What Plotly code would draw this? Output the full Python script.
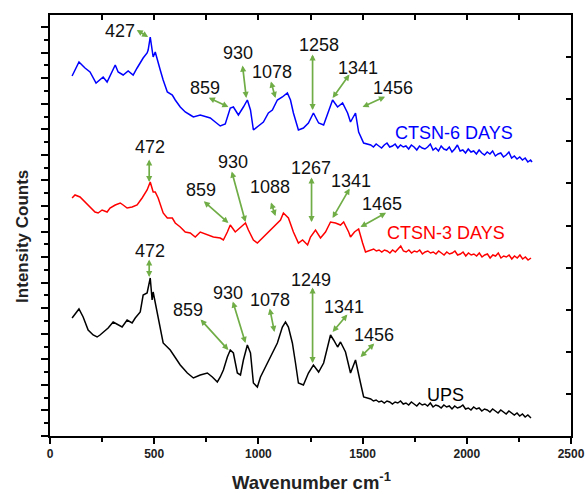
import plotly.graph_objects as go

# ---------------- data (wavenumber cm-1, intensity in arbitrary counts) ----------------
ups_x = [106,139,159,183,207,226,240,255,279,303,327,346,370,394,409,433,447,466,481,490,495,505,519,543,577,601,625,659,688,721,755,779,803,817,832,851,865,880,899,914,928,947,962,976,995,1010,1043,1067,1091,1115,1130,1144,1163,1178,1192,1216,1240,1264,1289,1313,1346,1361,1380,1394,1418,1442,1466,1490,1505,
         1539,1552,1565,1578,1591,1604,1617,1630,1643,1656,1669,1682,1695,1708,1721,1734,1747,1760,1773,1786,1799,1812,1825,1838,1851,1864,1877,1890,1903,1916,1929,1942,1955,1968,1981,1994,2007,2020,2033,2046,2059,2072,2085,2098,2111,2124,2137,2150,2163,2176,2189,2202,2215,2228,2241,2254,2267,2280,2293,2306,2308]
ups_y = [118,127,119,106,101,99,101,104,108,114,111,109,116,113,118,124,141,143,158,136,144,133,119,93,86,79,71,63,58,61,63,59,54,59,66,79,86,83,63,61,76,91,83,53,49,59,73,84,93,109,114,109,93,73,53,51,63,71,64,73,101,96,89,94,84,63,76,53,39,
         37,35,36,34,35,33,35,34,32,34,33,35,32,33,31,34,32,30,33,31,32,30,33,29,31,30,28,31,29,30,27,30,28,29,31,27,28,26,29,27,28,25,27,26,24,27,25,23,26,24,22,25,23,21,23,20,22,19,21,18,18]

d3_x = [106,120,144,168,192,216,231,250,274,288,313,337,351,370,394,418,442,466,481,495,505,519,543,563,587,601,625,649,673,697,721,755,784,817,832,851,865,889,914,938,952,976,995,1019,1043,1067,1091,1106,1120,1144,1168,1192,1212,1236,1250,1274,1298,1322,1346,1370,1394,1409,1433,1442,1461,1481,1500,1514,
        1553,1566,1579,1592,1605,1618,1631,1644,1657,1670,1683,1696,1709,1722,1735,1748,1761,1774,1787,1800,1813,1826,1839,1852,1865,1878,1891,1904,1917,1930,1943,1956,1969,1982,1995,2008,2021,2034,2047,2060,2073,2086,2099,2112,2125,2138,2151,2164,2177,2190,2203,2216,2229,2242,2255,2268,2281,2294,2308]
d3_y = [238,241,239,234,229,224,223,226,224,228,231,233,231,228,229,231,238,246,254,244,244,238,223,218,218,213,209,204,203,199,204,201,199,198,196,204,211,204,209,213,206,196,193,198,203,208,213,216,223,218,204,193,196,191,199,206,198,204,214,213,211,214,204,199,204,207,193,184,
        187,185,186,184,186,185,183,186,184,187,190,185,184,186,183,185,184,186,182,184,185,183,184,182,185,183,181,184,182,183,185,181,182,184,180,183,181,182,180,183,179,181,182,178,181,180,183,178,180,179,181,177,180,178,181,177,179,176,178]

d6_x = [106,139,168,192,221,255,274,313,327,351,375,399,418,433,447,466,471,481,490,495,505,514,529,543,563,587,601,625,649,673,688,721,769,793,817,841,865,880,904,928,947,962,976,1000,1024,1048,1067,1091,1115,1139,1154,1168,1192,1216,1240,1264,1289,1313,1337,1356,1380,1404,1428,1442,1466,1481,1505,
        1539,1552,1565,1578,1591,1604,1617,1630,1643,1656,1669,1682,1695,1708,1721,1734,1747,1760,1773,1786,1799,1812,1825,1838,1851,1864,1877,1890,1903,1916,1929,1942,1955,1968,1981,1994,2007,2020,2033,2046,2059,2072,2085,2098,2111,2124,2137,2150,2163,2176,2189,2202,2215,2228,2241,2254,2267,2280,2293,2306,2313]
d6_y = [360,374,368,364,353,359,354,371,364,361,365,361,368,374,378,383,386,399,386,379,384,376,366,356,344,341,336,329,324,321,319,321,318,314,310,312,328,329,321,329,336,326,306,310,314,323,326,336,339,343,336,323,306,308,313,323,313,311,326,336,329,333,323,314,323,304,293,
        291,289,292,290,288,291,293,289,290,292,288,291,289,290,287,291,289,286,290,288,287,289,292,286,288,285,290,287,286,289,284,287,291,285,286,283,287,284,285,282,286,283,281,284,282,285,280,282,283,279,281,284,278,280,277,279,276,278,274,276,274]

# peak labels: (label, text x, text y, arrow tail x, tail y, arrow head x, head y)
peaks_6 = [("427", 337, 405, 409, 407, 471, 399),
           ("859", 745, 348, 755, 339, 856, 329),
           ("930", 904, 383, 923, 372, 942, 338),
           ("1078", 1067, 364, 1058, 356, 1082, 338),
           ("1258", 1289, 391, 1260, 383, 1260, 326),
           ("1341", 1476, 368, 1442, 363, 1356, 338),
           ("1456", 1644, 348, 1615, 340, 1500, 329)]
peaks_3 = [("472", 481, 289, 476, 278, 476, 254),
           ("859", 726, 246, 731, 236, 856, 213),
           ("930", 880, 274, 870, 266, 938, 214),
           ("1088", 1058, 249, 1058, 235, 1082, 220),
           ("1267", 1250, 268, 1255, 260, 1255, 214),
           ("1341", 1442, 255, 1442, 249, 1356, 218),
           ("1465", 1591, 232, 1620, 224, 1490, 209)]
peaks_u = [("472", 481, 185, 476, 178, 476, 159),
           ("859", 664, 126, 716, 118, 856, 86),
           ("930", 856, 143, 875, 136, 938, 93),
           ("1078", 1058, 136, 1053, 129, 1077, 104),
           ("1249", 1250, 156, 1260, 150, 1260, 73),
           ("1341", 1409, 129, 1433, 123, 1356, 104),
           ("1456", 1553, 101, 1563, 94, 1490, 79)]

series_labels = [("CTSN-6 DAYS", 1938, 303, "#0000ff"),
                 ("CTSN-3 DAYS", 1899, 203, "#ff0000"),
                 ("UPS", 1899, 41, "#000000")]

x_ticks = [0, 500, 1000, 1500, 2000, 2500]

# ---------------- figure ----------------
FONT = "Liberation Sans, Arial, sans-serif"
GREEN = "#70ad47"

fig = go.Figure()
fig.add_trace(go.Scatter(x=d6_x, y=d6_y, mode="lines", line=dict(color="#0000ff", width=1.5), showlegend=False))
fig.add_trace(go.Scatter(x=d3_x, y=d3_y, mode="lines", line=dict(color="#ff0000", width=1.5), showlegend=False))
fig.add_trace(go.Scatter(x=ups_x, y=ups_y, mode="lines", line=dict(color="#000000", width=1.5), showlegend=False))
# empty trace to activate mirror axes
fig.add_trace(go.Scatter(x=[None], y=[None], xaxis="x2", yaxis="y2", showlegend=False, hoverinfo="skip"))

anns = []
for group in (peaks_6, peaks_3, peaks_u):
    for lab, tx, ty, ax_, ay_, hx, hy in group:
        anns.append(dict(x=hx, y=hy, ax=ax_, ay=ay_, xref="x", yref="y", axref="x", ayref="y",
                         text="", showarrow=True, arrowside="end+start", arrowhead=2, arrowsize=0.72,
                         arrowwidth=1.7, arrowcolor=GREEN, standoff=0, startstandoff=0))
        anns.append(dict(x=tx, y=ty, xref="x", yref="y", text=lab, showarrow=False,
                         font=dict(family=FONT, size=18, color="#111111")))
for lab, tx, ty, col in series_labels:
    anns.append(dict(x=tx, y=ty, xref="x", yref="y", text=lab, showarrow=False,
                     font=dict(family=FONT, size=18, color=col)))
# axis titles
anns.append(dict(x=0.501, y=-0.107, xref="paper", yref="paper", xanchor="center", yanchor="middle",
                 text="<b>Wavenumber cm<sup>-1</sup></b>", showarrow=False,
                 font=dict(family=FONT, size=18.5, color="#222222")))
anns.append(dict(x=-0.054, y=0.475, xref="paper", yref="paper", xanchor="center", yanchor="middle",
                 text="<b>Intensity Counts</b>", textangle=-90, showarrow=False,
                 font=dict(family=FONT, size=17, color="#222222")))

fig.update_layout(
    width=587, height=494,
    margin=dict(l=50, r=16, t=15, b=58, autoexpand=False),
    paper_bgcolor="white", plot_bgcolor="white",
    annotations=anns,
    xaxis=dict(range=[0, 2500], tickvals=x_ticks, ticktext=[f"<b>{v}</b>" for v in x_ticks],
               ticks="outside", ticklen=6, tickwidth=2, tickcolor="black", automargin=False,
               minor=dict(dtick=250, tick0=0, ticks="outside", ticklen=4, tickwidth=2, tickcolor="black"),
               showline=True, linewidth=2, linecolor="black", showgrid=False, zeroline=False,
               tickfont=dict(family=FONT, size=12, color="#222222")),
    xaxis2=dict(range=[0, 2500], overlaying="x", side="top", anchor="y", automargin=False,
                dtick=250, tick0=0, ticks="inside", ticklen=5, tickwidth=2, tickcolor="black",
                showticklabels=False, showline=True, linewidth=2, linecolor="black",
                showgrid=False, zeroline=False),
    yaxis=dict(range=[0, 421], tick0=0, dtick=25.56, ticks="outside", ticklen=7, tickwidth=2, tickcolor="black",
               minor=dict(dtick=12.78, tick0=0, ticks="outside", ticklen=4, tickwidth=2, tickcolor="black"),
               showticklabels=False, showline=True, linewidth=2, linecolor="black",
               showgrid=False, zeroline=False, automargin=False),
    yaxis2=dict(range=[0, 10], overlaying="y", side="right", anchor="x", automargin=False,
                dtick=1, tick0=0, ticks="inside", ticklen=5, tickwidth=2, tickcolor="black",
                showticklabels=False, showline=True, linewidth=2, linecolor="black",
                showgrid=False, zeroline=False),
)

fig.write_html("out.html")
